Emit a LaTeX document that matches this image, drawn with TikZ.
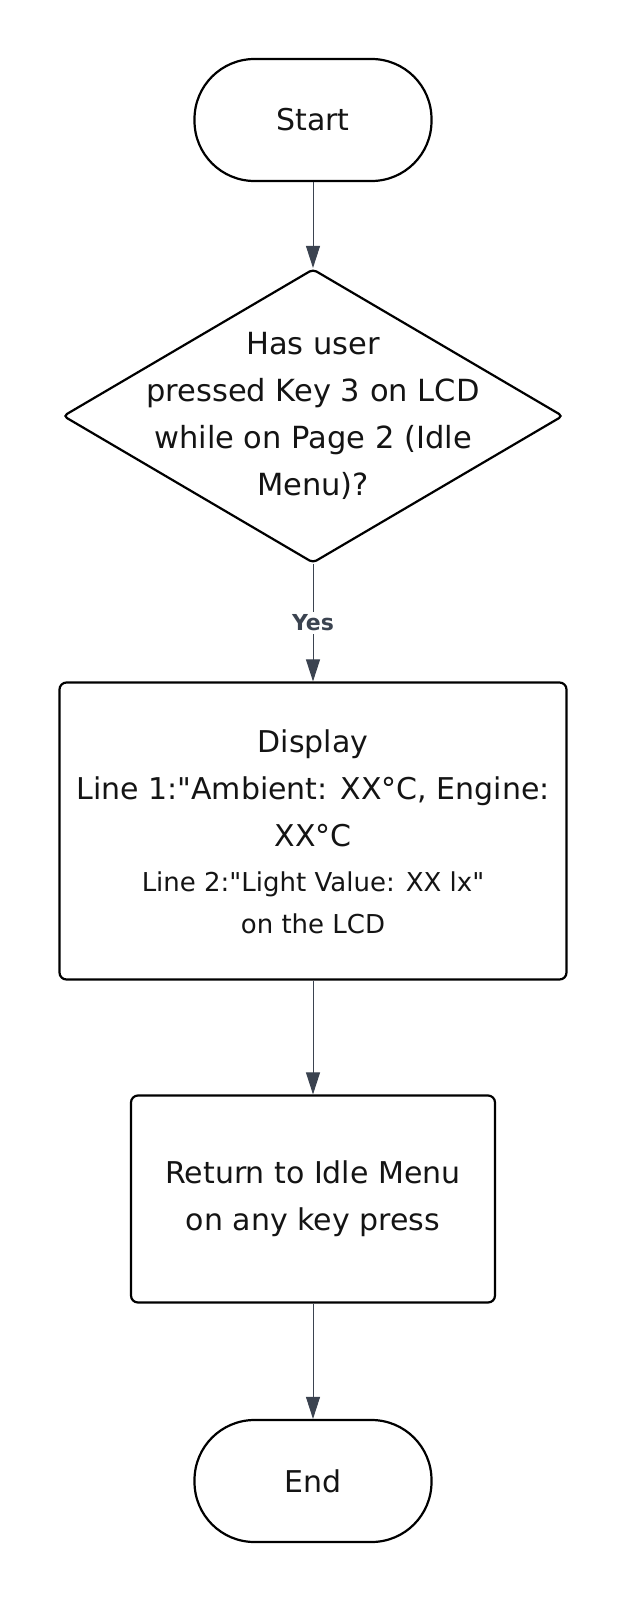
\documentclass[tikz,border=0pt]{standalone}
\usepackage{fontspec}
\setmainfont{DejaVu Sans}[Ligatures=TeXOff]
\usetikzlibrary{arrows.meta,shapes.geometric}
\definecolor{arr}{HTML}{3B4350}
\definecolor{txt}{HTML}{141414}
\tikzset{
  term/.style={draw=black,line width=2.2pt,rounded corners=60pt,minimum width=237pt,minimum height=122pt,inner sep=0pt,text=txt,font=\fontsize{30}{47}\selectfont},
  proc/.style={draw=black,line width=2.2pt,rounded corners=7pt,inner sep=0pt,text=txt,align=center},
  dec/.style={draw=black,line width=2.2pt,diamond,minimum width=500pt,minimum height=294pt,inner sep=0pt,rounded corners=4pt},
  conn/.style={draw=arr,line width=1pt,-{Triangle[width=14pt,length=22pt]}},
  lbl/.style={text=txt,align=center,font=\fontsize{30.5}{47}\selectfont}
}
\begin{document}
\begin{tikzpicture}[x=1pt,y=-1pt]
\useasboundingbox (0,0) rectangle (627,1600);
\node[term] (start) at (313,120) {Start};
\node[dec] (dec) at (313,416) {};
\node[lbl] (dectext) at (313,416) {Has user\\pressed Key 3 on LCD\\while on Page 2 (Idle\\Menu)?};
\node[proc,minimum width=507pt,minimum height=297pt] (disp) at (313,831) {};
\node[text=txt,align=center,font=\fontsize{30}{47}\selectfont] (disptext) at (313,832) {Display\\Line 1:"Ambient: XX°C, Engine:\\XX°C\\[-2pt]\fontsize{26}{47}\selectfont Line 2:"Light Value: XX lx"\\[-5pt]\fontsize{26}{47}\selectfont on the LCD};
\node[proc,minimum width=364pt,minimum height=207pt,font=\fontsize{30}{47}\selectfont] (ret) at (313,1199) {Return to Idle Menu\\on any key press};
\node[term] (end) at (313,1481) {End};
\draw[conn] (start.south) -- (dec.north);
\draw[conn] (dec.south) -- node[pos=0.5,fill=white,inner sep=3pt,text=arr,font=\bfseries\fontsize{22}{22}\selectfont] (yes) {Yes} (disp.north);
\draw[conn] (disp.south) -- (ret.north);
\draw[conn] (ret.south) -- (end.north);
\end{tikzpicture}
\end{document}
